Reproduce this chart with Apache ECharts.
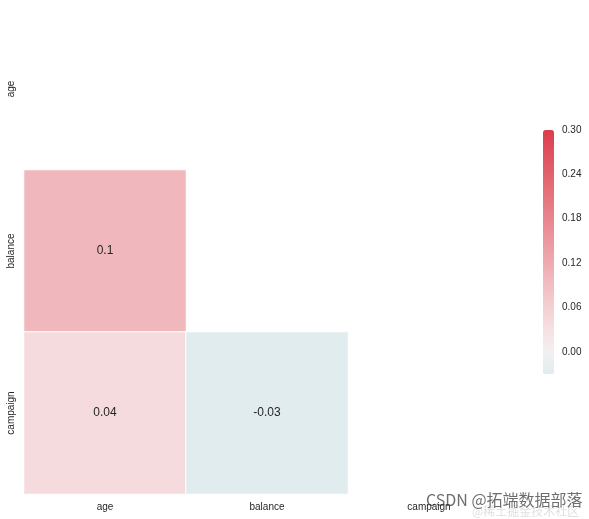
<!DOCTYPE html>
<html><head><meta charset="utf-8">
<script src="https://cdn.jsdelivr.net/npm/echarts@6/dist/echarts.min.js"></script>
<style>html,body{margin:0;padding:0;background:#fff}#c{width:589px;height:519px}</style>
</head><body><div id="c"></div>
<script>
const categories = ['age', 'balance', 'campaign'];
// lower-triangle correlation values: [xIndex, yIndex, value]
const cells = [[0, 1, 0.1], [0, 2, 0.04], [1, 2, -0.03]];
const colorbarTicks = [0.00, 0.06, 0.12, 0.18, 0.24, 0.30];
const cbMin = -0.03, cbMax = 0.30;
const palette = ['#e0ecee','#f2f0f1','#f6e0e2','#f4d0d3','#f1bec2','#eeabb0','#eb989f','#e8868e','#e5747d','#e2626d','#df505d','#dc3c4c'];

const chart = echarts.init(document.getElementById('c'), null, {renderer: 'canvas'});
const font = 'Liberation Sans, Arial, sans-serif';
chart.setOption({
  backgroundColor: '#ffffff',
  animation: false,
  grid: [
    {left: 24, top: 8, width: 486, height: 486},
    {left: 543, top: 130, width: 11, height: 244}
  ],
  xAxis: [
    {type: 'category', gridIndex: 0, data: categories, position: 'bottom',
     axisLine: {show: false}, axisTick: {show: false}, splitLine: {show: false},
     axisLabel: {color: '#262626', fontSize: 10, fontFamily: font, margin: 8}},
    {type: 'value', gridIndex: 1, show: false, min: 0, max: 1}
  ],
  yAxis: [
    {type: 'category', gridIndex: 0, data: categories, inverse: true,
     axisLine: {show: false}, axisTick: {show: false}, splitLine: {show: false},
     axisLabel: {color: '#262626', fontSize: 10, fontFamily: font, rotate: 90, margin: 8}},
    {type: 'value', gridIndex: 1, position: 'right', min: cbMin, max: cbMax,
     axisLine: {show: false}, axisTick: {show: false}, splitLine: {show: false},
     axisLabel: {customValues: colorbarTicks, color: '#262626', fontSize: 10, fontFamily: font, margin: 8,
       formatter: v => v.toFixed(2)}}
  ],
  visualMap: {
    type: 'continuous', seriesIndex: 0, min: cbMin, max: cbMax,
    calculable: false, realtime: false, orient: 'vertical',
    left: 538, top: 125, itemWidth: 11, itemHeight: 244, padding: 5,
    text: ['', ''], showLabel: false,
    inRange: {color: palette}
  },
  series: [{
    type: 'heatmap', xAxisIndex: 0, yAxisIndex: 0,
    data: cells,
    itemStyle: {borderColor: '#ffffff', borderWidth: 1},
    label: {show: true, color: '#262626', fontSize: 12, fontFamily: font,
      formatter: p => String(p.value[2])},
    emphasis: {disabled: true}
  }],
  graphic: [
    {type: 'text', left: 426, top: 492, style: {text: 'CSDN @拓端数据部落', fontSize: 16, fontFamily: 'Noto Sans CJK SC, sans-serif', fill: 'rgba(60,60,60,0.75)'}},
    {type: 'text', left: 472, top: 505, style: {text: '@稀土掘金技术社区', fontSize: 12, fontFamily: 'Noto Sans CJK SC, sans-serif', fill: 'rgba(150,150,150,0.3)'}}
  ]
});
</script></body></html>
